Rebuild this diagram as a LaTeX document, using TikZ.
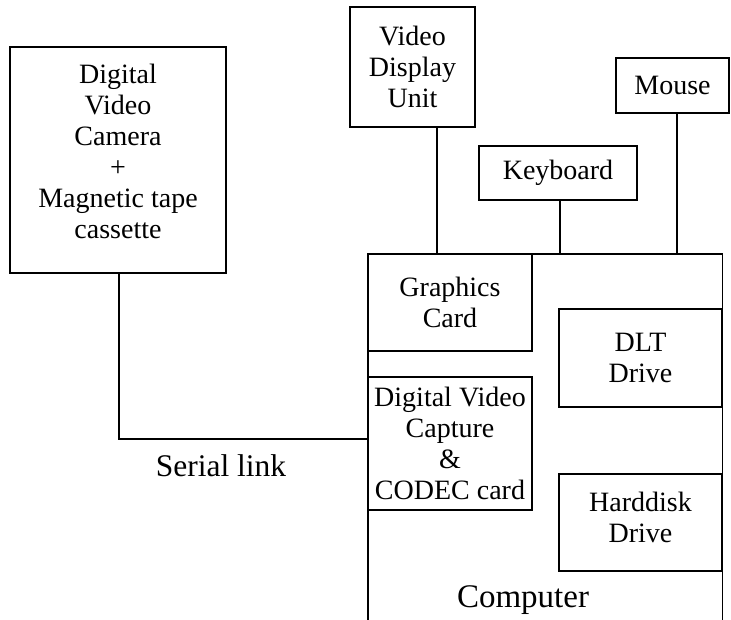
\documentclass[tikz,border=0pt]{standalone}
\usepackage{fontspec}
\setmainfont{Liberation Serif}
\begin{document}
\begin{tikzpicture}[x=1pt,y=-1pt,
  box/.style={draw, line width=1.8pt, inner sep=0pt, align=center, font=\fontsize{28}{31}\selectfont},
  txt/.style={inner sep=0pt, align=center, font=\fontsize{28}{31}\selectfont},
  big/.style={inner sep=0pt, font=\fontsize{31.5}{35}\selectfont},
  wire/.style={line width=1.8pt}]
\useasboundingbox (0,0) rectangle (731,620);
% outside devices
\node[box, minimum width=216pt, minimum height=226pt] (camera) at (118,160) {};
\node[txt] (cameratext) at ([yshift=9pt]camera.center) {Digital\\Video\\Camera\\+\\Magnetic tape\\cassette};
\node[box, minimum width=125pt, minimum height=120pt] (vdu) at (412.5,67) {Video\\Display\\Unit};
\node[box, minimum width=113pt, minimum height=55pt] (mouse) at (672.5,85.5) {Mouse};
\node[box, minimum width=158pt, minimum height=54pt] (keyboard) at (558,173) {Keyboard};
% computer (open at the bottom)
\node[inner sep=0pt, minimum width=354pt, minimum height=366pt, anchor=north west] (comp) at (368,254) {};
\draw[wire] (comp.south west) -- (comp.north west) -- (comp.north east) -- (comp.south east);
\node[inner sep=0pt, font=\fontsize{33}{37}\selectfont] (complabel) at (523,600) {Computer};
% internal cards
\node[box, minimum width=164pt, minimum height=97pt] (graphics) at (450,302.5) {Graphics\\Card};
\node[box, minimum width=164pt, minimum height=133pt] (capture) at (450,443.5) {Digital Video\\Capture\\\&\\CODEC card};
\node[box, minimum width=163pt, minimum height=98pt] (dlt) at (640.5,358) {DLT\\Drive};
\node[box, minimum width=163pt, minimum height=97pt] (hdd) at (640.5,522.5) {};
\node[txt] (hddtext) at ([yshift=5pt]hdd.center) {Harddisk\\Drive};
% connectors
\coordinate (serialcorner) at (119,439);
\draw[wire] ([xshift=1pt]camera.south) -- (serialcorner) -- (serialcorner -| comp.west);
\node[big] (seriallabel) at (221,466) {Serial link};
\draw[wire] ([xshift=24.5pt]vdu.south) -- ([xshift=24.5pt]vdu.south |- comp.north);
\draw[wire] ([xshift=2pt]keyboard.south) -- ([xshift=2pt]keyboard.south |- comp.north);
\draw[wire] ([xshift=4.5pt]mouse.south) -- ([xshift=4.5pt]mouse.south |- comp.north);
\end{tikzpicture}
\end{document}
